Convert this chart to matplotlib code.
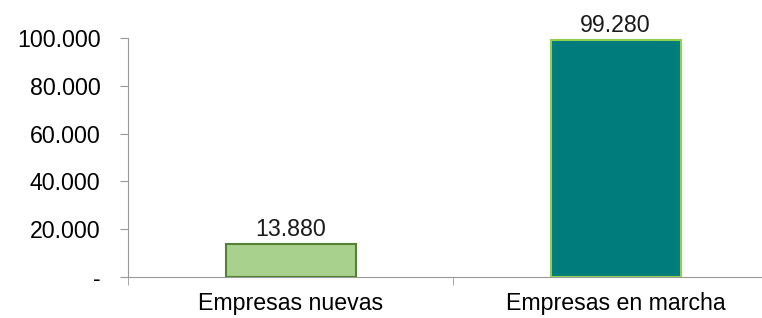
import matplotlib.pyplot as plt

categories = ['Empresas nuevas', 'Empresas en marcha']
values = [13880, 99280]
value_labels = ['13.880', '99.280']
ytick_values = [0, 20000, 40000, 60000, 80000, 100000]
ytick_labels = ['-', '20.000', '40.000', '60.000', '80.000', '100.000']

plt.rcParams['font.family'] = ['Liberation Sans', 'DejaVu Sans']
fs = 16.7

fig = plt.figure(figsize=(7.62, 3.18), dpi=100)
ax = fig.add_axes([0.168, 0.129, 0.853, 0.7515])

fills = ['#A9D18E', '#007C7C']
edges = ['#548235', '#92D050']
x = [0, 1]
bars = ax.bar(x, values, width=0.40, color=fills, edgecolor=edges, linewidth=1.5, zorder=3)

for b, lab in zip(bars, value_labels):
    ax.annotate(lab, (b.get_x() + b.get_width() / 2, b.get_height()),
                xytext=(0, 2), textcoords='offset points',
                ha='center', va='bottom', fontsize=fs, color='#1a1a1a')

ax.set_xlim(-0.5, 1.5)
ax.set_ylim(0, 100000)
ax.set_yticks(ytick_values)
ax.set_yticklabels(ytick_labels, fontsize=fs)
ax.set_xticks(x)
ax.set_xticklabels(categories, fontsize=fs)
ax.set_xticks([-0.5, 0.5, 1.5], minor=True)

for s in ['top', 'right']:
    ax.spines[s].set_visible(False)
for s in ['left', 'bottom']:
    ax.spines[s].set_color('#999999')

ax.tick_params(axis='y', length=5.8, color='#999999', pad=14)
ax.tick_params(axis='x', which='major', length=0, pad=11)
ax.tick_params(axis='x', which='minor', length=5.8, color='#999999')

fig.savefig('out.png', dpi=100)
